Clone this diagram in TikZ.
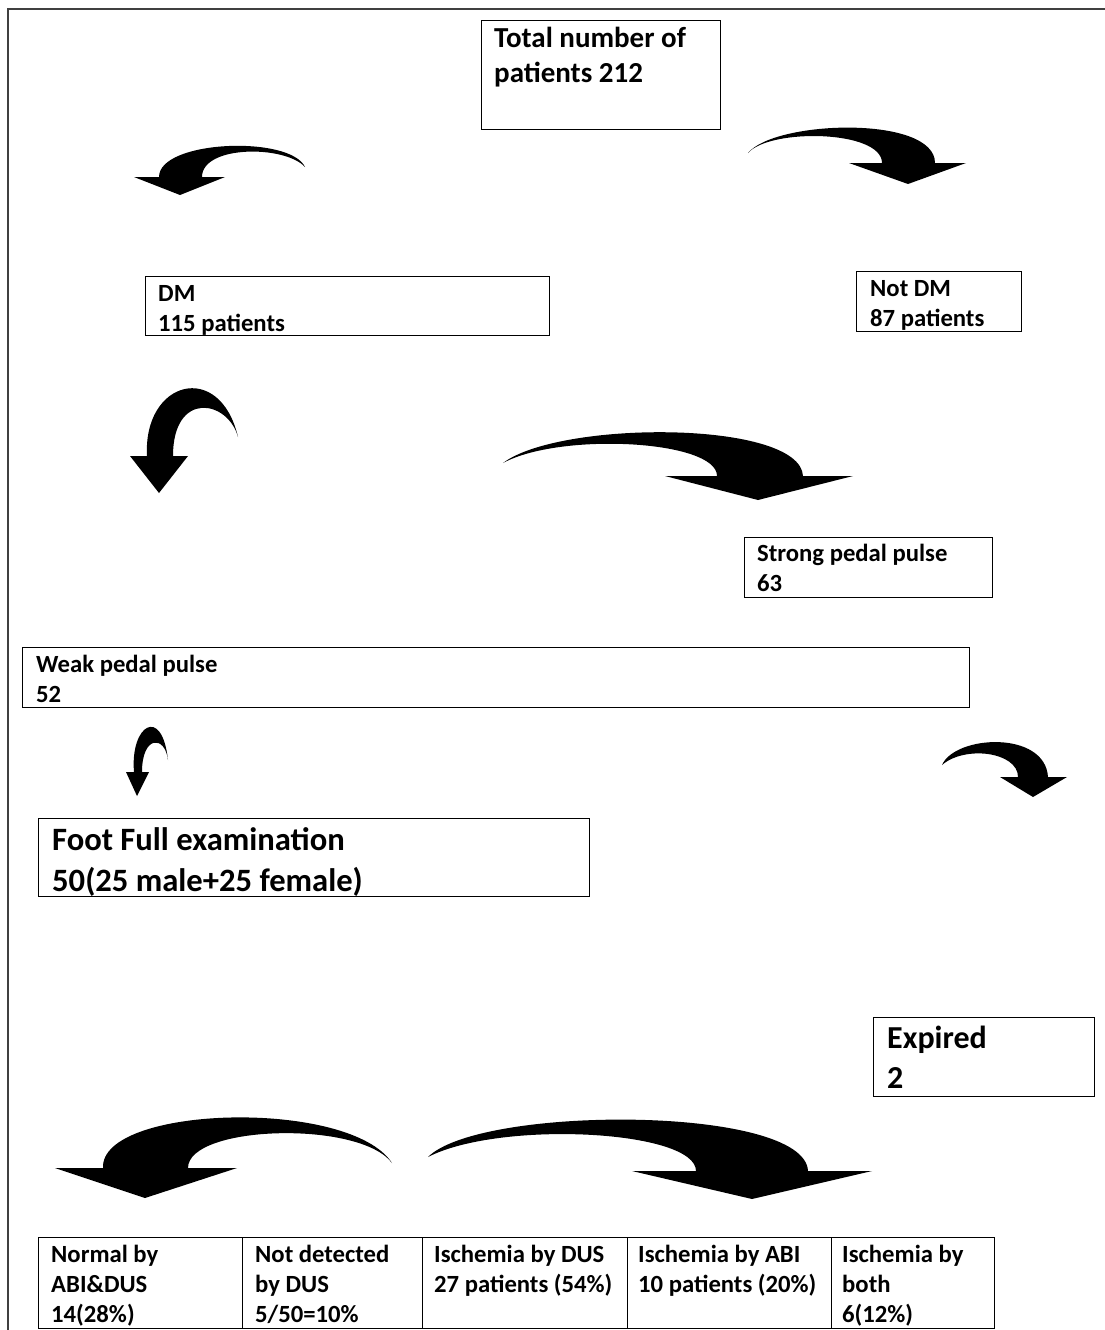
\documentclass[tikz,border=0pt]{standalone}
\usepackage{fontspec}
\setmainfont{Carlito}
\newcommand{\twolines}[2]{\begin{tabular}[t]{@{}l@{}}#1\\#2\end{tabular}}
\newcommand{\threelines}[3]{\begin{tabular}[t]{@{}l@{}}#1\\#2\\#3\end{tabular}}
\begin{document}
\begin{tikzpicture}[x=1pt,y=-1pt,
  box/.style={draw=black, line width=1.2pt, inner sep=0pt, anchor=north west},
  cell/.style={draw=black, line width=1.2pt, inner sep=0pt, anchor=north west, minimum height=91pt},
  txtS/.style={anchor=base west, inner sep=0pt, font=\fontsize{24.7}{30}\selectfont\bfseries},
  txtM/.style={anchor=base west, inner sep=0pt, font=\fontsize{29}{34.5}\selectfont\bfseries},
  txtL/.style={anchor=base west, inner sep=0pt, font=\fontsize{32.6}{41}\selectfont\bfseries},
  txtX/.style={anchor=base west, inner sep=0pt, font=\fontsize{32}{40}\selectfont\bfseries},
  curvedarrow/.style={fill=black, draw=none},
  frame/.style={draw=black!75, line width=1.5pt}]
\useasboundingbox (0,0) rectangle (1105,1330);
\fill[white] (0,0) rectangle (1105,1330);
\draw[frame] (8,1330) -- (8,9) -- (1105,9);

% boxes
\node[box, minimum width=239pt, minimum height=109pt] (total) at (481,20) {};
\node[txtM] (totaltxt) at (494,48) {\twolines{Total number of}{patients 212}};

\node[box, minimum width=404pt, minimum height=59pt] (dm) at (145,276) {};
\node[txtS] (dmtxt) at (158,301) {\twolines{DM}{115 patients}};

\node[box, minimum width=165pt, minimum height=60pt] (notdm) at (856,271) {};
\node[txtS] (notdmtxt) at (870,296) {\twolines{Not DM}{87 patients}};

\node[box, minimum width=248pt, minimum height=60pt] (strong) at (744,537) {};
\node[txtS] (strongtxt) at (757,561) {\twolines{Strong pedal pulse}{63}};

\node[box, minimum width=947pt, minimum height=60pt] (weak) at (22,647) {};
\node[txtS] (weaktxt) at (36,672) {\twolines{Weak pedal pulse}{52}};

\node[box, minimum width=551pt, minimum height=78pt] (foot) at (38,818) {};
\node[txtL] (foottxt) at (52,850) {\twolines{Foot Full examination}{50(25 male+25 female)}};

\node[box, minimum width=221pt, minimum height=79pt] (expired) at (873,1017) {};
\node[txtX] (expiredtxt) at (887,1048) {\twolines{Expired}{2}};

% table
\node[cell, minimum width=204pt] (c1) at (38,1237) {};
\node[cell, minimum width=180pt] (c2) at (242,1237) {};
\node[cell, minimum width=205pt] (c3) at (422,1237) {};
\node[cell, minimum width=204pt] (c4) at (627,1237) {};
\node[cell, minimum width=163pt] (c5) at (831,1237) {};
\node[txtS] (c1txt) at (51,1262) {\threelines{Normal by}{ABI\&DUS}{14(28\%)}};
\node[txtS] (c2txt) at (255,1262) {\threelines{Not detected}{by DUS}{5/50=10\%}};
\node[txtS] (c3txt) at (434,1262) {\twolines{Ischemia by DUS}{27 patients (54\%)}};
\node[txtS] (c4txt) at (638,1262) {\twolines{Ischemia by ABI}{10 patients (20\%)}};
\node[txtS] (c5txt) at (842,1262) {\threelines{Ischemia by}{both}{6(12\%)}};

% curved arrows
\fill[curvedarrow] (180,195) -- (134,177) -- (159,177) .. controls (159,140) and (290,135) .. (305,167) .. controls (285,145) and (202,145) .. (202,177) -- (225,177) -- cycle;
\fill[curvedarrow] (908,184) -- (966,163) -- (935,163) .. controls (935,115) and (775,120) .. (748,153) .. controls (770,128) and (882,130) .. (882,163) -- (849,163) -- cycle;
\fill[curvedarrow] (159,493) -- (130,456) -- (147,456) .. controls (143,380) and (220,360) .. (238,437) .. controls (228,400) and (173,390) .. (173,456) -- (188,456) -- cycle;
\fill[curvedarrow] (758,500) -- (853,476) -- (803,476) .. controls (800,420) and (560,420) .. (503,463) .. controls (560,432) and (717,440) .. (717,476) -- (665,476) -- cycle;
\fill[curvedarrow] (137,796) -- (126,772) -- (134,772) .. controls (130,725) and (162,705) .. (168,760) .. controls (165,735) and (142,735) .. (142,772) -- (149,772) -- cycle;
\fill[curvedarrow] (1033,797) -- (1067,777) -- (1048,777) .. controls (1045,730) and (955,735) .. (942,765) .. controls (965,745) and (1018,752) .. (1018,777) -- (1000,777) -- cycle;
\fill[curvedarrow] (145,1198) -- (55,1168) -- (103,1168) .. controls (100,1105) and (350,1098) .. (392,1163) .. controls (360,1120) and (188,1125) .. (188,1168) -- (237,1168) -- cycle;
\fill[curvedarrow] (752,1199) -- (872,1171) -- (808,1171) .. controls (805,1105) and (480,1105) .. (428,1157) .. controls (500,1120) and (696,1130) .. (696,1171) -- (632,1171) -- cycle;
\end{tikzpicture}
\end{document}
